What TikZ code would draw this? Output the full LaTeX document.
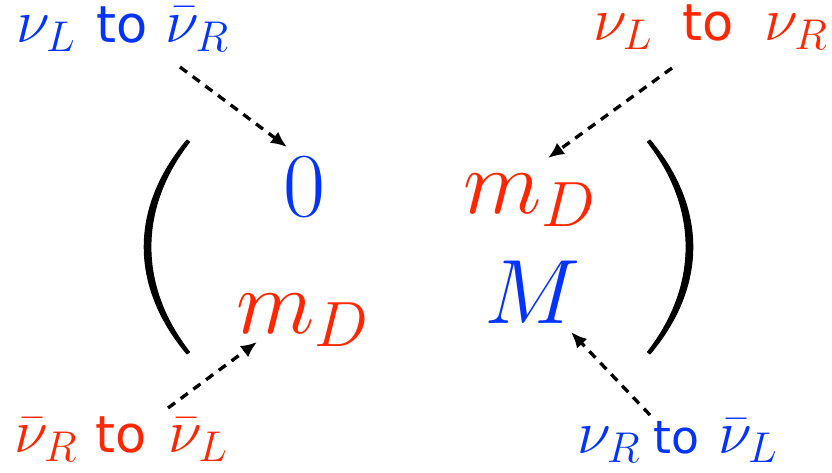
\RequirePackage{fix-cm}
\documentclass[tikz,border=0pt]{standalone}
\usepackage[no-math]{fontspec}
\newfontfamily\nmSans{DejaVu Sans}
\usetikzlibrary{
    arrows.meta,
    calc
}
\definecolor{nmBlue}{HTML}{0433FF}
\definecolor{nmRed}{HTML}{FF2600}
% gap before "to", gap after "to"
\newcommand{\nmTo}[3][29]{\hspace{#2}{\nmSans\fontsize{#1}{#1}\selectfont to}\hspace{#3}}
\tikzset{
    nmEntry/.style={
        inner sep=0pt,
        font=\fontsize{52}{60}\selectfont
    },
    nmLabel/.style={
        inner sep=0pt,
        font=\fontsize{35}{42}\selectfont
    },
    nmArrow/.style={-{Latex[length=3.2mm,width=2.8mm]},line width=1.9pt,dash pattern=on 5pt off 4pt,draw=black},
    nmParen/.style={fill=black,draw=black,line width=0.6pt,line join=round}
}
\begin{document}
\begin{tikzpicture}
        \useasboundingbox (0,0) rectangle (16.64,-9.44);

        % matrix entries
        \node[nmEntry,text=nmBlue] (zero) at (6.08,-3.74) {$0$};
        \node[nmEntry,text=nmRed,anchor=base west] (mdTop) at (9.26,-4.26) {$m_D$};
        \node[nmEntry,text=nmRed,anchor=base west] (mdBot) at (4.72,-6.66) {$m_D$};
        \node[nmEntry,text=nmBlue,anchor=base west] (bigM) at (9.68,-6.46) {$M$};

        % brackets
        \path[nmParen] (3.74,-2.80) .. controls (2.60,-4.16) and (2.60,-5.72) .. (3.74,-7.08)
            -- (3.79,-7.04) .. controls (2.76,-5.72) and (2.76,-4.16) .. (3.79,-2.84) -- cycle;
        \path[nmParen] (13.00,-2.80) .. controls (14.14,-4.16) and (14.14,-5.72) .. (13.00,-7.08)
            -- (12.95,-7.04) .. controls (13.98,-5.72) and (13.98,-4.16) .. (12.95,-2.84) -- cycle;

        % corner labels
        \node[nmLabel,text=nmBlue,anchor=base west] (lblTL) at (0.32,-0.84)
            {$\nu_L$\nmTo{0.41cm}{0.37cm}$\bar\nu_R$};
        \node[nmLabel,text=nmRed,anchor=base east] (lblTR) at (16.56,-0.80)
            {$\nu_L$\nmTo{0.61cm}{0.61cm}$\nu_R$};
        \node[nmLabel,text=nmRed,anchor=base west] (lblBL) at (0.28,-9.04)
            {$\bar\nu_R$\nmTo{0.37cm}{0.43cm}$\bar\nu_L$};
        \node[nmLabel,text=nmBlue,anchor=base west] (lblBR) at (11.54,-9.06)
            {$\nu_R$\nmTo[26]{0.27cm}{0.37cm}$\bar\nu_L$};

        % arrow ends
        \coordinate (tlTail) at (3.60,-1.34);
        \coordinate (tlHead) at (5.74,-2.94);
        \coordinate (trTail) at (13.44,-1.36);
        \coordinate (trHead) at (10.96,-3.16);
        \coordinate (blTail) at (3.36,-8.16);
        \coordinate (blHead) at (5.14,-6.84);
        \coordinate (brTail) at (13.00,-8.30);
        \coordinate (brHead) at (11.42,-6.64);

        \draw[nmArrow] (tlTail) -- (tlHead);
        \draw[nmArrow] (trTail) -- (trHead);
        \draw[nmArrow] (blTail) -- (blHead);
        \draw[nmArrow] (brTail) -- (brHead);
    \end{tikzpicture}
\end{document}
